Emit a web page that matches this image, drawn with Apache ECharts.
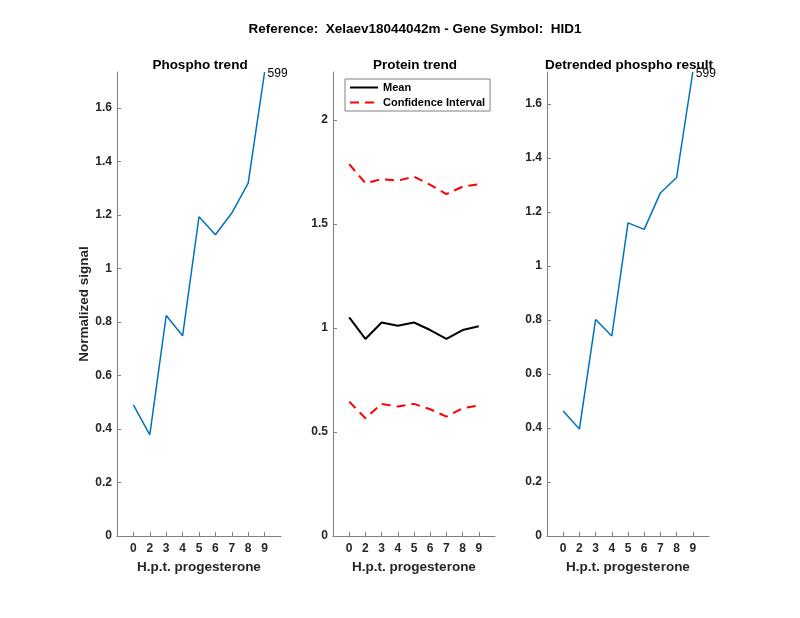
<!DOCTYPE html>
<html>
<head>
<meta charset="utf-8">
<script src="https://cdn.jsdelivr.net/npm/echarts@6/dist/echarts.min.js"></script>
<style>html,body{margin:0;padding:0;background:#fff}#c{width:800px;height:618px}</style>
</head>
<body>
<div id="c"></div>
<script>
var tickLabels = ['0','2','3','4','5','6','7','8','9'];
var phospho = [0.49, 0.378, 0.824, 0.748, 1.193, 1.126, 1.207, 1.319, 1.734];
var proteinMean = [1.051, 0.947, 1.026, 1.010, 1.026, 0.990, 0.947, 0.990, 1.008];
var ciUpper = [1.787, 1.696, 1.715, 1.708, 1.727, 1.688, 1.643, 1.679, 1.691];
var ciLower = [0.646, 0.566, 0.635, 0.622, 0.635, 0.609, 0.574, 0.614, 0.627];
var detrended = [0.463, 0.396, 0.802, 0.741, 1.160, 1.136, 1.271, 1.328, 1.719];
var peptideLabel = '599';
var yTicks1 = [0, 0.2, 0.4, 0.6, 0.8, 1, 1.2, 1.4, 1.6];
var yTicks2 = [0, 0.5, 1, 1.5, 2];
var yTicks3 = [0, 0.2, 0.4, 0.6, 0.8, 1, 1.2, 1.4, 1.6];

var FONT = '"Liberation Sans", Arial, Helvetica, sans-serif';
var TXT = '#262626';
var AX = '#808080';
var xPos = tickLabels.map(function(_, i){ return i + 1; });

function pts(arr) {
  return arr.map(function(v, i){ return [i + 1, v]; });
}
function xAx(idx) {
  return {
    type: 'value', gridIndex: idx, min: 0, max: 10,
    axisLine: { show: true, lineStyle: { color: AX, width: 1 } },
    axisTick: { show: true, inside: true, length: 4, customValues: xPos, lineStyle: { color: AX } },
    axisLabel: { customValues: xPos, formatter: function(v){ return tickLabels[Math.round(v) - 1] || ''; },
      color: TXT, fontSize: 12, fontWeight: 'bold', fontFamily: FONT, margin: 7 },
    splitLine: { show: false },
    name: 'H.p.t. progesterone', nameLocation: 'middle', nameGap: 24,
    nameTextStyle: { color: TXT, fontSize: 13.5, fontWeight: 'bold', fontFamily: FONT }
  };
}
function yAx(idx, max, ticks, fmt, name) {
  var o = {
    type: 'value', gridIndex: idx, min: 0, max: max,
    axisLine: { show: true, lineStyle: { color: AX, width: 1 } },
    axisTick: { show: true, inside: true, length: 4, customValues: ticks, lineStyle: { color: AX } },
    axisLabel: { customValues: ticks, formatter: fmt, color: TXT, fontSize: 12, fontWeight: 'bold', fontFamily: FONT, margin: 5 },
    splitLine: { show: false }
  };
  if (name) {
    o.name = name; o.nameLocation = 'middle'; o.nameGap = 23;
    o.nameTextStyle = { color: TXT, fontSize: 13.5, fontWeight: 'bold', fontFamily: FONT };
  }
  return o;
}
function fmt1(v){ return String(Math.round(v * 10) / 10); }
function endLbl(txt) {
  return { show: true, formatter: txt, color: '#000', fontSize: 12, fontFamily: FONT, distance: 3, offset: [0, 2] };
}

var chart = echarts.init(document.getElementById('c'), null, { renderer: 'canvas' });
chart.setOption({
  backgroundColor: '#fff',
  animation: false,
  title: [
    { text: 'Reference:  Xelaev18044042m - Gene Symbol:  HID1', left: 410, top: 17, textAlign: 'center',
      textStyle: { color: '#000', fontSize: 13.5, fontWeight: 'bold', fontFamily: FONT } },
    { text: 'Phospho trend', left: 195, top: 53, textAlign: 'center',
      textStyle: { color: '#000', fontSize: 13.5, fontWeight: 'bold', fontFamily: FONT } },
    { text: 'Protein trend', left: 410, top: 53, textAlign: 'center',
      textStyle: { color: '#000', fontSize: 13.5, fontWeight: 'bold', fontFamily: FONT } },
    { text: 'Detrended phospho result', left: 624, top: 53, textAlign: 'center',
      textStyle: { color: '#000', fontSize: 13.5, fontWeight: 'bold', fontFamily: FONT } }
  ],
  legend: {
    data: ['Mean', 'Confidence Interval'],
    orient: 'vertical', left: 345, top: 79,
    backgroundColor: '#fff', borderColor: AX, borderWidth: 1, borderRadius: 0,
    padding: [3, 5, 3, 4], itemGap: 4, itemWidth: 28, itemHeight: 12,
    itemStyle: { opacity: 0 },
    textStyle: { color: '#000', fontSize: 11, fontWeight: 'bold', fontFamily: FONT }
  },
  grid: [
    { left: 117, top: 72, width: 164, height: 464 },
    { left: 333, top: 72, width: 162, height: 464 },
    { left: 547, top: 72, width: 162, height: 464 }
  ],
  xAxis: [xAx(0), xAx(1), xAx(2)],
  yAxis: [
    yAx(0, 1.734, yTicks1, fmt1, 'Normalized signal'),
    yAx(1, 2.23, yTicks2, function(v){ return String(v); }),
    yAx(2, 1.719, yTicks3, fmt1)
  ],
  series: [
    { type: 'line', xAxisIndex: 0, yAxisIndex: 0, data: pts(phospho), symbol: 'none',
      lineStyle: { color: '#0072BD', width: 1.5 }, itemStyle: { color: '#0072BD' },
      endLabel: endLbl(peptideLabel) },
    { name: 'Mean', type: 'line', xAxisIndex: 1, yAxisIndex: 1, data: pts(proteinMean), symbol: 'none',
      lineStyle: { color: '#000', width: 2 }, itemStyle: { color: '#000' } },
    { name: 'Confidence Interval', type: 'line', xAxisIndex: 1, yAxisIndex: 1, data: pts(ciUpper), symbol: 'none',
      lineStyle: { color: '#FF0000', width: 2, type: [9, 6] }, itemStyle: { color: '#FF0000' } },
    { name: 'Confidence Interval', type: 'line', xAxisIndex: 1, yAxisIndex: 1, data: pts(ciLower), symbol: 'none',
      lineStyle: { color: '#FF0000', width: 2, type: [9, 6] }, itemStyle: { color: '#FF0000' } },
    { type: 'line', xAxisIndex: 2, yAxisIndex: 2, data: pts(detrended), symbol: 'none',
      lineStyle: { color: '#0072BD', width: 1.5 }, itemStyle: { color: '#0072BD' },
      endLabel: endLbl(peptideLabel) }
  ]
});
</script>
</body>
</html>
